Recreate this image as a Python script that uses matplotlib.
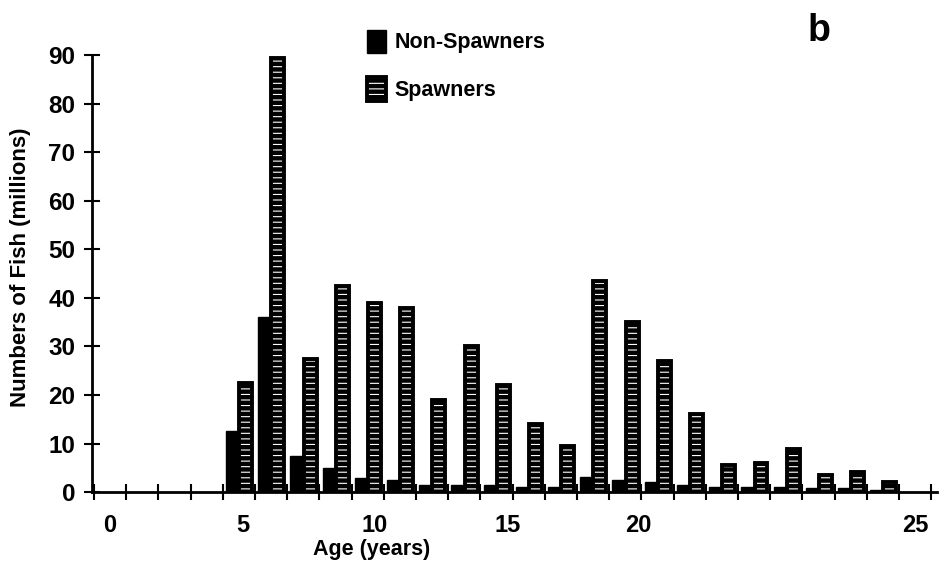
import numpy as np
import matplotlib
matplotlib.use("Agg")
import matplotlib.pyplot as plt

plt.rcParams['font.family'] = ['Liberation Sans', 'DejaVu Sans']
plt.rcParams['font.weight'] = 'bold'
plt.rcParams['hatch.linewidth'] = 3.2
plt.rcParams['hatch.color'] = 'black'

# data
ages = [4, 5, 6, 7, 8, 9, 10, 11, 12, 13, 14, 15, 16, 17, 18, 19, 20, 21, 22, 23, 24]
non_spawners = [12.5, 36, 7.5, 5, 2.8, 2.5, 1.5, 1.5, 1.5, 1.0, 1.0, 3.0, 2.5,
                2.0, 1.5, 1.0, 1.0, 1.0, 0.8, 0.8, 0.5]
spawners = [22.4, 89.5, 27.5, 42.5, 39, 38, 19, 30, 22, 14, 9.5, 43.5, 35,
            27, 16, 5.5, 6, 8.8, 3.5, 4.2, 2.0]
y_ticks = [0, 10, 20, 30, 40, 50, 60, 70, 80, 90]
x_labels = ['0', '5', '10', '15', '20', '25']
x_label_pos = [0.0, 4.13, 8.23, 12.33, 16.4, 25.0]  # labels sit where the original typeset them

fig = plt.figure(figsize=(9.39, 5.63), dpi=100)
ax = fig.add_axes([0.098, 0.126, 0.900, 0.776])

ages = np.array(ages)
w = 0.4
ax.bar(ages - w / 2, non_spawners, width=w, color='black', edgecolor='black',
       linewidth=1, label='Non-Spawners', zorder=2)
ax.bar(ages + w / 2 + 0.01, spawners, width=w, color='white', edgecolor='black',
       linewidth=2.8, hatch='---', label='Spawners', zorder=2)

ax.set_xlim(-0.56, 25.68)
ax.set_ylim(0, 90)

for s in ['top', 'right']:
    ax.spines[s].set_visible(False)
for s in ['left', 'bottom']:
    ax.spines[s].set_linewidth(2)
    ax.spines[s].set_zorder(3)

ax.set_yticks(y_ticks)
ax.set_yticklabels([str(v) for v in y_ticks], fontsize=17.5, fontweight='bold')
ax.tick_params(axis='y', direction='inout', length=12, width=1.5, pad=6)

ax.set_xticks(np.arange(-0.5, 26, 1.0))
ax.set_xticklabels([])
ax.tick_params(axis='x', direction='inout', length=12, width=1.5)

for lab, pos in zip(x_labels, x_label_pos):
    ax.text(pos, -4.5, lab, ha='center', va='top', fontsize=17, fontweight='bold',
            transform=ax.transData, clip_on=False)

fig.text(0.396, 0.005, 'Age (years)', ha='center', va='bottom', fontsize=15.5, fontweight='bold')
fig.text(0.022, 0.525, 'Numbers of Fish (millions)', rotation=90, ha='center', va='center',
         fontsize=16, fontweight='bold')
fig.text(0.872, 0.945, 'b', ha='center', va='center', fontsize=27, fontweight='bold')

leg = ax.legend(loc='upper left', bbox_to_anchor=(0.302, 1.103), frameon=False,
                fontsize=15.5, handlelength=0.9, handleheight=1.3, labelspacing=1.1,
                handletextpad=0.4)

fig.savefig('out.png', dpi=100)
